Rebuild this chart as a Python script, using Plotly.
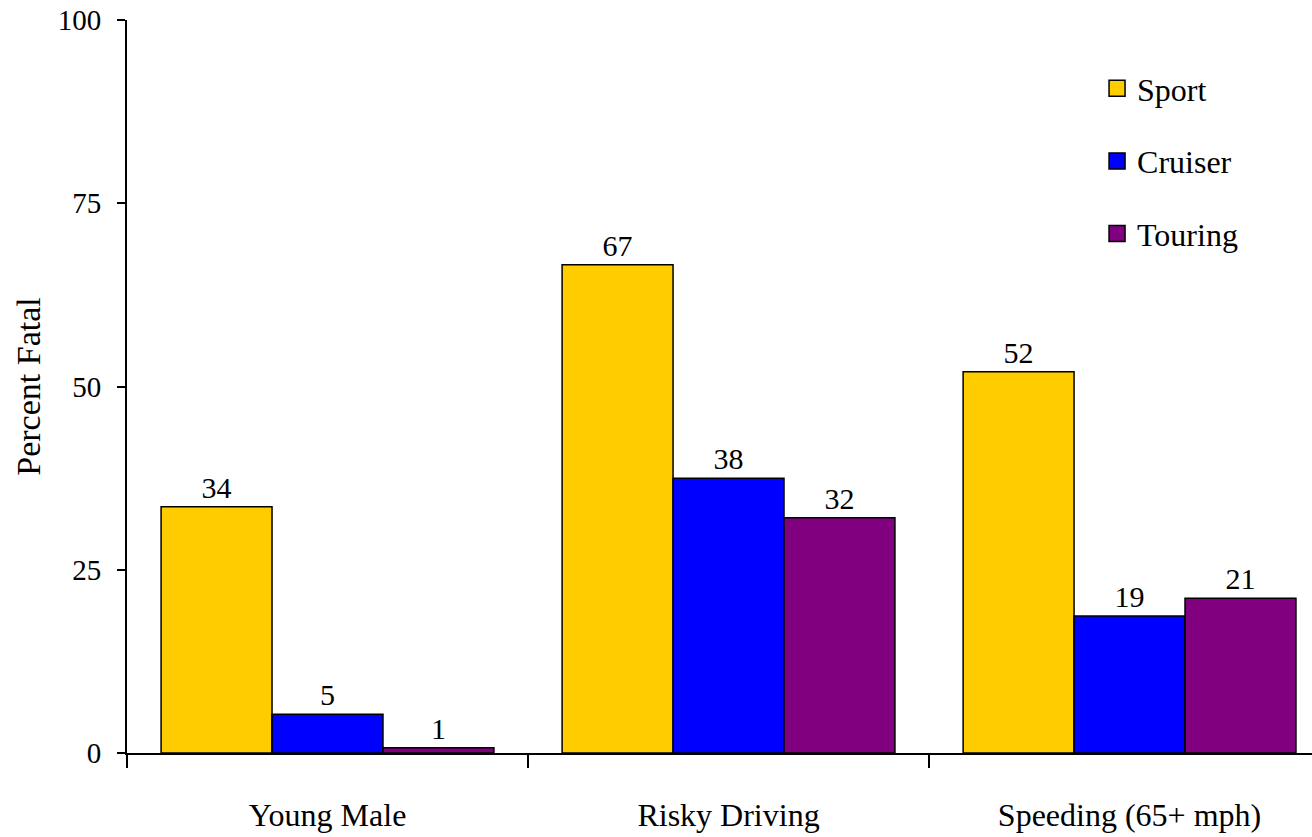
import plotly.graph_objects as go

categories = ["Young Male", "Risky Driving", "Speeding (65+ mph)"]
series_names = ["Sport", "Cruiser", "Touring"]
sport = [33.6, 66.6, 52.0]
cruiser = [5.3, 37.5, 18.7]
touring = [0.7, 32.1, 21.1]
sport_labels = ["34", "67", "52"]
cruiser_labels = ["5", "38", "19"]
touring_labels = ["1", "32", "21"]
y_ticks = [0, 25, 50, 75, 100]

colors = ["#FFCC00", "#0000FF", "#800080"]
FONT = "Liberation Serif"

fig = go.Figure()
for name, vals, labels, col in zip(series_names, [sport, cruiser, touring],
                                   [sport_labels, cruiser_labels, touring_labels], colors):
    fig.add_trace(go.Bar(
        x=categories, y=vals, name=name, text=labels, textposition="outside",
        textfont=dict(family=FONT, size=30, color="black"),
        marker=dict(color=col, line=dict(color="black", width=1.5)),
        cliponaxis=False, showlegend=False,
    ))
# legend entries
for i, (name, col) in enumerate(zip(series_names, colors)):
    fig.add_trace(go.Scatter(
        x=[None], y=[None], mode="markers", name=name, legendgroup=name,
        marker=dict(symbol="square", size=20, color=col, line=dict(color="black", width=1.5)),
    ))

fig.update_layout(
    width=1312, height=837,
    margin=dict(l=127, r=0, t=20, b=84, autoexpand=False),
    paper_bgcolor="white", plot_bgcolor="white",
    barmode="group", bargap=0.17, bargroupgap=0,
    font=dict(family=FONT, size=30, color="black"),
    legend=dict(x=0.8186, y=0.944, xanchor="left", yanchor="top",
                font=dict(family=FONT, size=32, color="black"),
                tracegroupgap=28, traceorder="grouped", itemsizing="trace",
                bgcolor="rgba(0,0,0,0)"),
    xaxis=dict(range=[-0.5, 2.455], showline=True, linecolor="black", linewidth=2,
               ticks="outside", tickson="boundaries", ticklen=13, tickwidth=1.5,
               tickcolor="black", ticklabelstandoff=33, automargin=False,
               tickfont=dict(family=FONT, size=32), showgrid=False, zeroline=False),
    yaxis=dict(range=[0, 100], tickvals=y_ticks, showline=True, linecolor="black",
               linewidth=2, ticks="outside", ticklen=8, tickwidth=1.5, tickcolor="black",
               ticklabelstandoff=10, tickfont=dict(family=FONT, size=29), automargin=False,
               showgrid=False, zeroline=False,
               title=dict(text="Percent Fatal", font=dict(family=FONT, size=34), standoff=7)),
)

fig.write_html("out.html", config={"displayModeBar": False},
               post_script="document.body.style.margin='0';document.body.style.overflow='hidden';")
